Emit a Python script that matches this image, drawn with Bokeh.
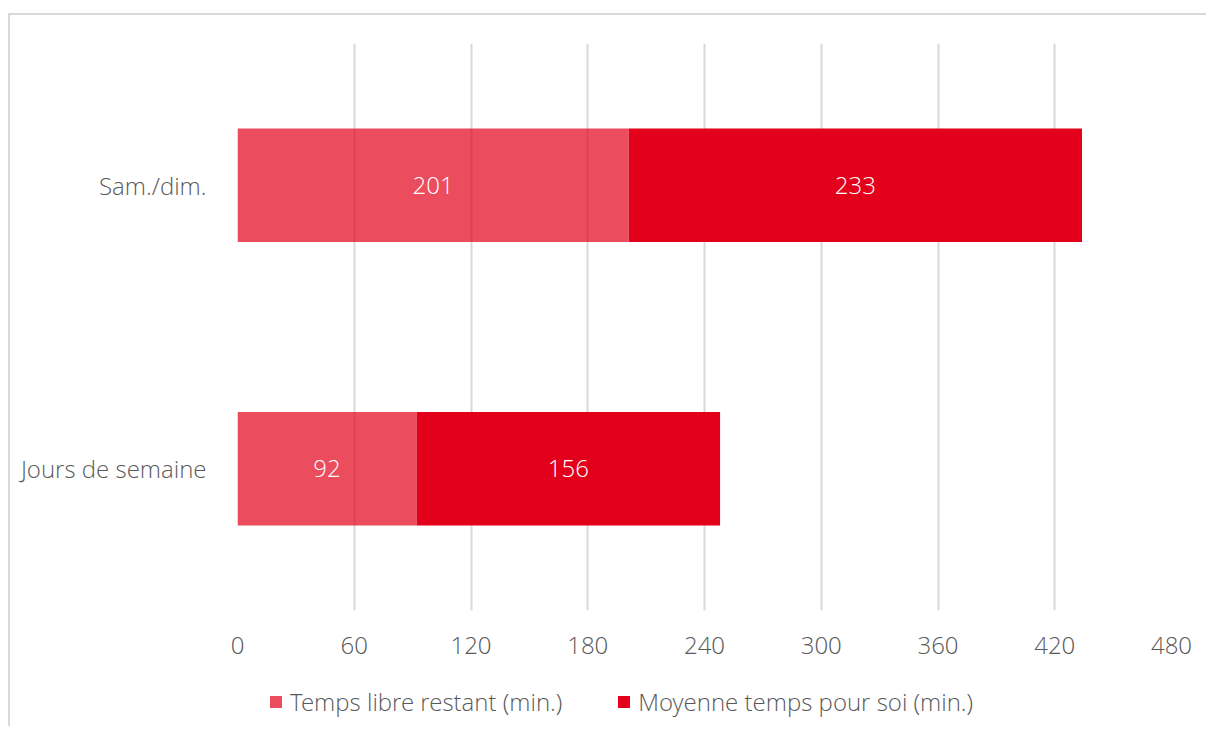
from bokeh.plotting import figure
from bokeh.layouts import column
from bokeh.models import ColumnDataSource, Legend, LegendItem, LabelSet, FixedTicker
from bokeh.embed import file_html
from bokeh.resources import INLINE
from bokeh.core.properties import value

categories = ["Jours de semaine", "Sam./dim."]
temps_libre = [92, 201]
temps_soi = [156, 233]
x_ticks = [0, 60, 120, 180, 240, 300, 360, 420, 480]
series_names = ["Temps libre restant (min.)", "Moyenne temps pour soi (min.)"]

FONT = "Open Sans Light"
GRAY = "#595959"
RED = "#E2001A"
FS = "24px"
LIGHT_ALPHA = 0.7

src = ColumnDataSource(dict(
    cat=categories,
    zero=[0] * len(categories),
    libre_end=temps_libre,
    soi_end=[a + b for a, b in zip(temps_libre, temps_soi)],
    libre_mid=[a / 2 for a in temps_libre],
    soi_mid=[a + b / 2 for a, b in zip(temps_libre, temps_soi)],
    libre_txt=[str(v) for v in temps_libre],
    soi_txt=[str(v) for v in temps_soi],
))

p = figure(y_range=categories, x_range=(0, 480),
           frame_width=934, frame_height=567,
           output_backend="svg", toolbar_location=None,
           min_border_left=227, min_border_right=35, min_border_top=28,
           min_border_bottom=66)
p.outline_line_color = None
p.background_fill_color = "white"
p.border_fill_color = "white"

p.hbar(y="cat", left="zero", right="libre_end", height=0.4, source=src,
       fill_color=RED, fill_alpha=LIGHT_ALPHA, line_color=None)
p.hbar(y="cat", left="libre_end", right="soi_end", height=0.4, source=src,
       fill_color=RED, line_color=None)

for xcol, tcol in (("libre_mid", "libre_txt"), ("soi_mid", "soi_txt")):
    p.add_layout(LabelSet(x=xcol, y="cat", text=tcol, source=src,
                          text_align="center", text_baseline="middle",
                          text_color="white", text_font=value(FONT),
                          text_font_size=FS))

p.xaxis.ticker = FixedTicker(ticks=x_ticks)
p.xaxis.axis_line_color = None
p.xaxis.major_tick_line_color = None
p.xaxis.minor_tick_line_color = None
p.xaxis.major_label_standoff = 20
p.xaxis.major_label_text_font = FONT
p.xaxis.major_label_text_font_size = FS
p.xaxis.major_label_text_color = GRAY

p.yaxis.axis_line_color = None
p.yaxis.major_tick_line_color = None
p.yaxis.minor_tick_line_color = None
p.yaxis.major_label_standoff = 25
p.yaxis.major_label_text_font = FONT
p.yaxis.major_label_text_font_size = FS
p.yaxis.major_label_text_color = GRAY

p.xgrid.grid_line_color = "#D9D9D9"
p.xgrid.grid_line_width = 2
p.xgrid.ticker = FixedTicker(ticks=x_ticks)
p.ygrid.grid_line_color = None

# legend strip below the chart (its zero-height bars lie outside its visible range)
leg = figure(width=1196, height=50, y_range=categories, x_range=(1000, 1001),
             output_backend="svg", toolbar_location=None,
             x_axis_location=None, y_axis_location=None,
             min_border_left=0, min_border_right=0, min_border_top=0, min_border_bottom=0)
leg.outline_line_color = None
leg.xgrid.grid_line_color = None
leg.ygrid.grid_line_color = None
lr1 = leg.hbar(y="cat", left="zero", right="libre_end", height=0, source=src,
               fill_color=RED, fill_alpha=LIGHT_ALPHA, line_color=None)
lr2 = leg.hbar(y="cat", left="libre_end", right="soi_end", height=0, source=src,
               fill_color=RED, line_color=None)
legend = Legend(items=[LegendItem(label=series_names[0], renderers=[lr1]),
                       LegendItem(label=series_names[1], renderers=[lr2])],
                orientation="horizontal", location=(31, 8),
                glyph_width=15, glyph_height=15, label_height=15,
                label_standoff=7, spacing=54,
                padding=0, margin=0, border_line_color=None,
                background_fill_alpha=0,
                label_text_font=FONT, label_text_font_size=FS,
                label_text_color=GRAY)
leg.add_layout(legend, "center")

layout = column(p, leg, spacing=0,
                styles={"border-top": "2px solid #D9D9D9", "border-left": "2px solid #D9D9D9",
                        "margin-top": "13px", "margin-left": "8px"})

open("out.html", "w").write(file_html(layout, INLINE))
